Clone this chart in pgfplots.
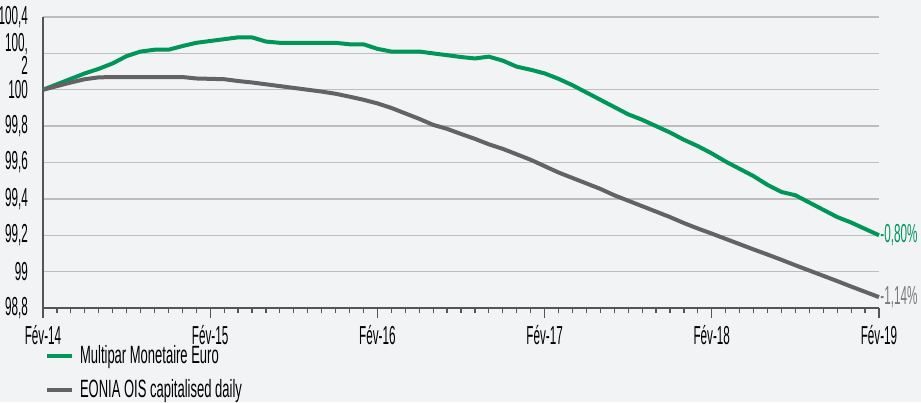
\documentclass[border=0pt]{standalone}
\usepackage{fontspec}
\setmainfont{Liberation Sans}[FakeStretch=0.52]
\newfontfamily\numf{Liberation Sans}[FakeStretch=0.45]
\usepackage{pgfplots}
\pgfplotsset{compat=1.18}

\definecolor{bg}{HTML}{F2F3F5}
\definecolor{vert}{HTML}{00965A}
\definecolor{gris}{HTML}{636363}
\definecolor{grille}{HTML}{BDBDBD}
\definecolor{axe}{HTML}{555555}

\pgfplotstableread{
m v
0 100.000
1 100.030
2 100.060
3 100.090
4 100.115
5 100.145
6 100.185
7 100.210
8 100.220
9 100.220
10 100.240
11 100.258
12 100.268
13 100.278
14 100.288
15 100.288
16 100.265
17 100.258
18 100.258
19 100.258
20 100.258
21 100.258
22 100.250
23 100.250
24 100.225
25 100.210
26 100.210
27 100.210
28 100.200
29 100.190
30 100.180
31 100.172
32 100.182
33 100.160
34 100.127
35 100.110
36 100.090
37 100.060
38 100.025
39 99.985
40 99.945
41 99.905
42 99.865
43 99.835
44 99.800
45 99.765
46 99.725
47 99.690
48 99.650
49 99.605
50 99.565
51 99.525
52 99.477
53 99.438
54 99.420
55 99.380
56 99.340
57 99.300
58 99.270
59 99.235
60 99.200
}\multipar

\pgfplotstableread{
m v
0 100.000
1 100.020
2 100.040
3 100.058
4 100.068
5 100.070
6 100.070
7 100.070
8 100.070
9 100.070
10 100.070
11 100.062
12 100.060
13 100.058
14 100.048
15 100.040
16 100.030
17 100.020
18 100.010
19 100.000
20 99.990
21 99.978
22 99.962
23 99.945
24 99.925
25 99.900
26 99.870
27 99.840
28 99.807
29 99.785
30 99.757
31 99.730
32 99.700
33 99.675
34 99.645
35 99.615
36 99.580
37 99.545
38 99.515
39 99.485
40 99.455
41 99.420
42 99.390
43 99.360
44 99.330
45 99.300
46 99.267
47 99.237
48 99.209
49 99.180
50 99.151
51 99.122
52 99.094
53 99.065
54 99.035
55 99.006
56 98.977
57 98.948
58 98.918
59 98.889
60 98.860
}\eonia

\begin{document}
\begin{tikzpicture}
\useasboundingbox (0,0) rectangle (460.5pt,201pt);
\fill[bg] (0,0) rectangle (460.5pt,201pt);
\begin{axis}[
  at={(21.5pt,47pt)}, anchor=south west,
  scale only axis,
  width=418pt, height=145.5pt,
  xmin=0, xmax=60, ymin=98.8, ymax=100.4,
  clip=false,
  axis x line*=bottom, axis y line*=left,
  axis line style={axe, line width=0.8pt},
  xtick={0,12,...,60},
  xticklabels={Fév-14,Fév-15,Fév-16,Fév-17,Fév-18,Fév-19},
  minor xtick={0,1,...,60},
  tick align=outside,
  major tick length=5pt, minor tick length=2.5pt,
  xtick style={axe, line width=0.6pt},
  ytick={98.8,99,99.2,99.4,99.6,99.8,100,100.2,100.4},
  yticklabels={{98,8},{99},{99,2},{99,4},{99,6},{99,8},{100},{\mbox{}\\100,\\2},{100,4}},
  ytick style={draw=none},
  yticklabel style={align=right, font=\numf\fontsize{13}{9.5}\selectfont, xshift=1pt},
  xticklabel style={font=\numf\fontsize{13}{12}\selectfont},
  ymajorgrids,
  grid style={grille, line width=0.7pt},
  legend style={at={(0.002,-0.12)}, anchor=north west, draw=none, fill=none,
    font=\fontsize{12.5}{12}\selectfont, row sep=4.5pt, column sep=2pt, inner sep=0pt,
    nodes={inner sep=1pt}},
  legend cell align=left,
  legend image code/.code={\draw[#1, line width=2pt] (0pt,0pt) -- (12.5pt,0pt);},
]
\addplot[vert, line width=2pt] table[x=m, y=v] {\multipar};
\addlegendentry{Multipar Monetaire Euro}
\addplot[gris, line width=2pt] table[x=m, y=v] {\eonia};
\addlegendentry{EONIA OIS capitalised daily}
\node[anchor=west, text=vert, font=\numf\fontsize{13}{12}\selectfont, inner sep=0.5pt] at (axis cs:60,99.2) {-0,80\%};
\node[anchor=west, text=gris!85, font=\numf\fontsize{13}{12}\selectfont, inner sep=0.5pt] at (axis cs:60,98.86) {-1,14\%};
\end{axis}
\end{tikzpicture}
\end{document}
